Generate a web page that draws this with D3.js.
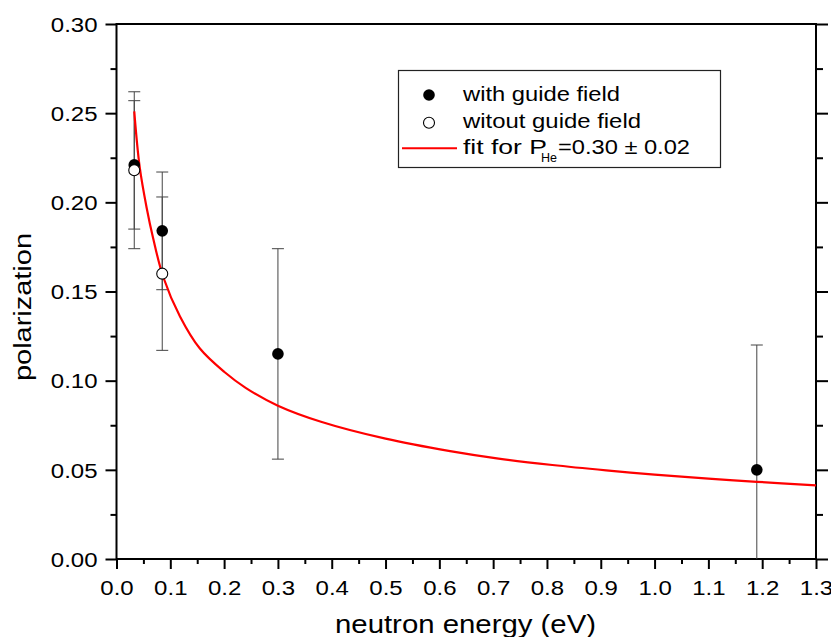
<!DOCTYPE html>
<html><head><meta charset="utf-8">
<script src="https://cdn.jsdelivr.net/npm/d3@7"></script>
<style>body{margin:0;background:#fff}svg{display:block}text{font-family:"Liberation Sans",Arial,sans-serif;fill:#000}</style>
</head><body><svg id="c" width="831" height="637"></svg>
<script>
// ---- data ----
const withField = [ // energy (eV), polarization, error
  {e:0.033, p:0.221, err:0.036},
  {e:0.085, p:0.184, err:0.033},
  {e:0.300, p:0.115, err:0.059},
  {e:1.190, p:0.050, err:0.070}
];
const withoutField = [
  {e:0.033, p:0.218, err:0.044},
  {e:0.085, p:0.160, err:0.043}
];
const fitE = [0.033,0.043,0.056,0.068,0.087,0.118,0.155,0.20,0.24,0.30,0.38,0.50,0.62,0.71,0.81,0.91,1.0,1.1,1.19,1.3];
const fitP = [0.251,0.220,0.197,0.180,0.158,0.136,0.118,0.105,0.096,0.086,0.077,0.0675,0.0605,0.0563,0.0527,0.0497,0.0473,0.0451,0.0433,0.0413];
const xTicks = [0.0,0.1,0.2,0.3,0.4,0.5,0.6,0.7,0.8,0.9,1.0,1.1,1.2,1.3];
const yTicks = [0.00,0.05,0.10,0.15,0.20,0.25,0.30];
const xMinor = [0.05,0.15,0.25,0.35,0.45,0.55,0.65,0.75,0.85,0.95,1.05,1.15,1.25];
const yMinor = [0.025,0.075,0.125,0.175,0.225,0.275];
const labels = {x:"neutron energy (eV)", y:"polarization",
  leg1:"with guide field", leg2:"witout guide field", leg3a:"fit for P", leg3b:"He", leg3c:"=0.30 ± 0.02"};

const L=116.5, R=816, T=24, B=559;
const svg = d3.select("#c");
const x = d3.scaleLinear().domain([0,1.3]).range([L,R]);
const y = d3.scaleLinear().domain([0,0.3]).range([B,T]);

function stretch(sel, f){ sel.each(function(){ const w=this.getComputedTextLength(); this.setAttribute("textLength", w*f); this.setAttribute("lengthAdjust","spacingAndGlyphs");}); }

svg.append("defs").append("clipPath").attr("id","clip").append("rect")
  .attr("x",L).attr("y",T).attr("width",R-L).attr("height",B-T);

// axes
const gx = svg.append("g").attr("transform",`translate(0,${B})`)
  .call(d3.axisBottom(x).tickValues(xTicks).tickSize(10).tickPadding(12).tickFormat(d3.format(".1f")));
const gxm = svg.append("g").attr("transform",`translate(0,${B})`)
  .call(d3.axisBottom(x).tickValues(xMinor).tickSize(5).tickFormat(""));
const gy = svg.append("g").attr("transform",`translate(${L},0)`)
  .call(d3.axisLeft(y).tickValues(yTicks).tickSize(11).tickPadding(8).tickFormat(d3.format(".2f")));
const gym = svg.append("g").attr("transform",`translate(${L},0)`)
  .call(d3.axisLeft(y).tickValues(yMinor).tickSize(6).tickFormat(""));
const gr = svg.append("g").attr("transform",`translate(${R},0)`)
  .call(d3.axisLeft(y).tickValues(yTicks).tickSize(-12).tickFormat(""));
const grm = svg.append("g").attr("transform",`translate(${R},0)`)
  .call(d3.axisLeft(y).tickValues(yMinor).tickSize(-7).tickFormat(""));
[gx,gxm,gy,gym,gr,grm].forEach(g=>{ g.select(".domain").remove(); g.selectAll("line").attr("stroke","#000").attr("stroke-width",2); });
[gx,gy].forEach(g=>g.selectAll("text").attr("font-size",20).attr("font-family","Liberation Sans, Arial, sans-serif").attr("fill","#000"));
gx.selectAll("text").attr("dy","0.71em");
gy.selectAll("text").attr("dy","0.36em");
stretch(gx.selectAll("text"),1.2);
stretch(gy.selectAll("text"),1.2);

// frame
svg.append("rect").attr("x",L).attr("y",T).attr("width",R-L).attr("height",B-T)
  .attr("fill","none").attr("stroke","#000").attr("stroke-width",2);

const plot = svg.append("g").attr("clip-path","url(#clip)");

// error bars
function errBars(data){
  const g = plot.append("g").attr("stroke","#444").attr("stroke-width",1).attr("fill","none");
  data.forEach(d=>{
    g.append("line").attr("x1",x(d.e)).attr("x2",x(d.e)).attr("y1",y(d.p-d.err)).attr("y2",y(d.p+d.err));
    [d.p-d.err,d.p+d.err].forEach(v=>g.append("line").attr("x1",x(d.e)-6).attr("x2",x(d.e)+6).attr("y1",y(v)).attr("y2",y(v)));
  });
}
errBars(withField); errBars(withoutField);

// fit curve
const fit = fitE.map((e,i)=>({e,p:fitP[i]}));
plot.append("path").datum(fit).attr("fill","none").attr("stroke","#ff0000").attr("stroke-width",2.2)
  .attr("d", d3.line().x(d=>x(d.e)).y(d=>y(d.p)).curve(d3.curveCatmullRom.alpha(0.5)));

// points
plot.selectAll("circle.f").data(withField).join("circle").attr("class","f")
  .attr("cx",d=>x(d.e)).attr("cy",d=>y(d.p)).attr("r",5.8).attr("fill","#000");
plot.selectAll("circle.o").data(withoutField).join("circle").attr("class","o")
  .attr("cx",d=>x(d.e)).attr("cy",d=>y(d.p)).attr("r",5.5).attr("fill","#fff").attr("stroke","#000").attr("stroke-width",1.1);

// axis titles
const tx = svg.append("text").attr("x",(335+596)/2).attr("y",633).attr("text-anchor","middle").attr("font-size",26).text(labels.x);
tx.attr("textLength",261).attr("lengthAdjust","spacingAndGlyphs");
const ty = svg.append("text").attr("transform","translate(31,307) rotate(-90)").attr("text-anchor","middle").attr("font-size",23).text(labels.y);
ty.attr("textLength",148).attr("lengthAdjust","spacingAndGlyphs");

// legend
const lg = svg.append("g");
lg.append("rect").attr("x",398.5).attr("y",70.5).attr("width",322).attr("height",97).attr("fill","#fff").attr("stroke","#222").attr("stroke-width",1.2);
lg.append("circle").attr("cx",429).attr("cy",95).attr("r",5.8).attr("fill","#000");
lg.append("circle").attr("cx",429).attr("cy",122.7).attr("r",5.5).attr("fill","#fff").attr("stroke","#000").attr("stroke-width",1.1);
lg.append("line").attr("x1",402).attr("x2",457).attr("y1",148.3).attr("y2",148.3).attr("stroke","#ff0000").attr("stroke-width",2);
lg.append("text").attr("x",463).attr("y",101).attr("font-size",21).attr("textLength",157).attr("lengthAdjust","spacingAndGlyphs").text(labels.leg1);
lg.append("text").attr("x",463).attr("y",127.5).attr("font-size",21).attr("textLength",178).attr("lengthAdjust","spacingAndGlyphs").text(labels.leg2);
lg.append("text").attr("x",463).attr("y",154).attr("font-size",21).attr("textLength",84).attr("lengthAdjust","spacingAndGlyphs").text(labels.leg3a);
lg.append("text").attr("x",541).attr("y",162).attr("font-size",13).attr("textLength",16).attr("lengthAdjust","spacingAndGlyphs").text(labels.leg3b);
lg.append("text").attr("x",558).attr("y",154).attr("font-size",21).attr("textLength",132).attr("lengthAdjust","spacingAndGlyphs").text(labels.leg3c);
</script></body></html>
